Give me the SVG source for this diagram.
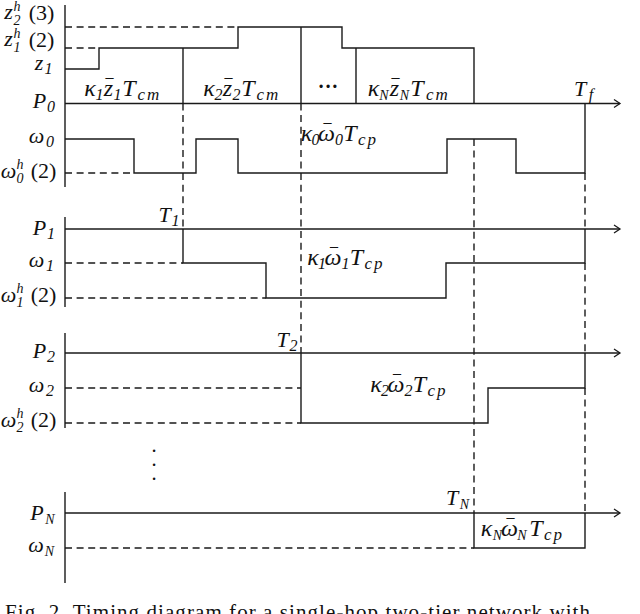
<svg xmlns="http://www.w3.org/2000/svg" width="640" height="614" viewBox="0 0 640 614">
<style>
.ln{fill:none;stroke:#1a1a1a;stroke-width:1.4}
.ds{fill:none;stroke:#1a1a1a;stroke-width:1.4;stroke-dasharray:7 4.6}
.m{font-family:"Liberation Serif","DejaVu Serif",serif;font-style:italic;font-size:22px;fill:#111;text-anchor:middle}
.k{font-size:24px}
.r{font-style:normal}
.sb{font-size:16px}
.sn{font-size:14px}
.sc{font-size:17px;letter-spacing:2px}
.ss{font-size:14px}
.mc{font-size:16px;font-style:normal}
.cap{font-family:"Liberation Serif",serif;font-size:21px;fill:#111}
</style>
<defs>
<marker id="ar" markerWidth="12" markerHeight="12" refX="10" refY="6" orient="auto" markerUnits="userSpaceOnUse">
<path d="M4 2 L10 6 L4 10" fill="none" stroke="#1a1a1a" stroke-width="1.3"/>
</marker>
</defs>
<g id="axes">
<path class="ln" d="M65 5 V187 M65 217 V307 M65 333 V428 M65 492 V583"/>
<path class="ln" marker-end="url(#ar)" d="M65 103.5 H620"/>
<path class="ln" marker-end="url(#ar)" d="M65 229 H620"/>
<path class="ln" marker-end="url(#ar)" d="M65 353 H620"/>
<path class="ln" marker-end="url(#ar)" d="M65 513 H620"/>
</g>
<g id="comm">
<path class="ln" d="M65 69 H99 V48 H238 V27 H342 V48 H474 V103.5"/>
<path class="ln" d="M183 48 V103.5 M301 27 V103.5 M356 48 V103.5"/>
<path class="ds" d="M65 27 H238 M65 48 H99"/>
</g>
<g id="p0">
<path class="ln" d="M65 139 H134 V173 H196 V139 H238 V173 H447 V139 H516 V173 H585 V103.5"/>
<path class="ds" d="M65 173 H134"/>
</g>
<g id="p1">
<path class="ln" d="M183 229 V263 H266 V298 H446 V263 H585 V229"/>
<path class="ds" d="M65 263 H183 M65 298 H266"/>
</g>
<g id="p2">
<path class="ln" d="M301 353 V423 H488 V388 H585 V353"/>
<path class="ds" d="M65 388 H301 M65 423 H301"/>
</g>
<g id="pN">
<path class="ln" d="M474 513 V548 H585 V513"/>
<path class="ds" d="M65 548 H474"/>
</g>
<g id="connectors">
<path class="ds" d="M183 103.5 V229 M301 103.5 V353 M474 139 V513 M585 173 V229 M585 263 V353 M585 388 V513"/>
</g>
<g id="left-labels">
<text class="m"><tspan x="8.5" y="19">z</tspan><tspan class="ss" x="17" y="11">h</tspan><tspan class="ss" x="17" y="25">2</tspan><tspan class="r" x="41.5" y="20">(3)</tspan></text>
<text class="m"><tspan x="8.5" y="46">z</tspan><tspan class="ss" x="17" y="38">h</tspan><tspan class="ss" x="17" y="52">1</tspan><tspan class="r" x="41.5" y="47">(2)</tspan></text>
<text class="m"><tspan x="39" y="70">z</tspan><tspan class="sb" x="48.5" y="74">1</tspan></text>
<text class="m"><tspan x="39.5" y="108">P</tspan><tspan class="sb" x="51" y="112">0</tspan></text>
<text class="m"><tspan x="36.5" y="143">ω</tspan><tspan class="sb" x="50" y="147">0</tspan></text>
<text class="m"><tspan x="8.5" y="178">ω</tspan><tspan class="ss" x="20" y="169">h</tspan><tspan class="ss" x="20" y="183">0</tspan><tspan class="r" x="43.5" y="178">(2)</tspan></text>
<text class="m"><tspan x="39.5" y="235">P</tspan><tspan class="sb" x="51" y="239">1</tspan></text>
<text class="m"><tspan x="36.5" y="267">ω</tspan><tspan class="sb" x="50" y="271">1</tspan></text>
<text class="m"><tspan x="8.5" y="302">ω</tspan><tspan class="ss" x="20" y="293">h</tspan><tspan class="ss" x="20" y="307">1</tspan><tspan class="r" x="43.5" y="302">(2)</tspan></text>
<text class="m"><tspan x="39.5" y="358">P</tspan><tspan class="sb" x="51" y="362">2</tspan></text>
<text class="m"><tspan x="36.5" y="392">ω</tspan><tspan class="sb" x="50" y="396">2</tspan></text>
<text class="m"><tspan x="8.5" y="427">ω</tspan><tspan class="ss" x="20" y="418">h</tspan><tspan class="ss" x="20" y="432">2</tspan><tspan class="r" x="43.5" y="427">(2)</tspan></text>
<text class="m"><tspan x="37" y="520">P</tspan><tspan class="sn" x="50" y="524">N</tspan></text>
<text class="m"><tspan x="36" y="552">ω</tspan><tspan class="sn" x="49.5" y="556">N</tspan></text>
</g>
<g id="inner-labels">
<text class="m k"><tspan x="90" y="96">κ</tspan><tspan class="sb" x="99.5" y="100">1</tspan><tspan x="108.5" y="96">z</tspan><tspan class="mc" x="109.5" y="91">¯</tspan><tspan class="sb" x="117.5" y="100">1</tspan><tspan x="129" y="96">T</tspan><tspan class="sc" x="149.5" y="100">cm</tspan></text>
<text class="m k"><tspan x="209" y="96">κ</tspan><tspan class="sb" x="218.5" y="100">2</tspan><tspan x="227.5" y="96">z</tspan><tspan class="mc" x="228.5" y="91">¯</tspan><tspan class="sb" x="236.5" y="100">2</tspan><tspan x="248" y="96">T</tspan><tspan class="sc" x="268.5" y="100">cm</tspan></text>
<text x="319" y="91" style="font-family:'Liberation Sans',sans-serif;font-size:12px;fill:#111" textLength="18" lengthAdjust="spacing">•••</text>
<text class="m k"><tspan x="373.5" y="96">κ</tspan><tspan class="sn" x="384" y="100">N</tspan><tspan x="394.5" y="96">z</tspan><tspan class="mc" x="395.5" y="91">¯</tspan><tspan class="sn" x="404.5" y="100">N</tspan><tspan x="417" y="96">T</tspan><tspan class="sc" x="438" y="100">cm</tspan></text>
<text class="m"><tspan x="580" y="96">T</tspan><tspan class="sb" x="591" y="100">f</tspan></text>
<text class="m k"><tspan x="306.5" y="141">κ</tspan><tspan class="sb" x="315.5" y="145">0</tspan><tspan x="326.5" y="141">ω</tspan><tspan class="mc" x="327.5" y="136">¯</tspan><tspan class="sb" x="339" y="145">0</tspan><tspan x="350" y="141">T</tspan><tspan class="sc" x="368" y="145">cp</tspan></text>
<text class="m"><tspan x="164.5" y="222">T</tspan><tspan class="sb" x="175.5" y="226">1</tspan></text>
<text class="m k"><tspan x="313" y="265">κ</tspan><tspan class="sb" x="322" y="269">1</tspan><tspan x="333" y="265">ω</tspan><tspan class="mc" x="334" y="260">¯</tspan><tspan class="sb" x="345.5" y="269">1</tspan><tspan x="356.5" y="265">T</tspan><tspan class="sc" x="374.5" y="269">cp</tspan></text>
<text class="m"><tspan x="282.5" y="347">T</tspan><tspan class="sb" x="293.5" y="351">2</tspan></text>
<text class="m k"><tspan x="376" y="392">κ</tspan><tspan class="sb" x="385" y="396">2</tspan><tspan x="396" y="392">ω</tspan><tspan class="mc" x="397" y="387">¯</tspan><tspan class="sb" x="408.5" y="396">2</tspan><tspan x="419.5" y="392">T</tspan><tspan class="sc" x="437.5" y="396">cp</tspan></text>
<text x="154" y="454" style="font-family:'Liberation Sans',sans-serif;font-size:9px;fill:#111" text-anchor="middle">•<tspan x="154" dy="14">•</tspan><tspan x="154" dy="14">•</tspan></text>
<text class="m"><tspan x="452" y="505">T</tspan><tspan class="sn" x="464.5" y="509">N</tspan></text>
<text class="m k"><tspan x="486.5" y="536">κ</tspan><tspan class="sn" x="497.5" y="540">N</tspan><tspan x="509.5" y="536">ω</tspan><tspan class="mc" x="510.5" y="531">¯</tspan><tspan class="sn" x="522" y="540">N</tspan><tspan x="536" y="536">T</tspan><tspan class="sc" x="554" y="540">cp</tspan></text>
</g>
<text class="cap" x="5" y="619" textLength="585" lengthAdjust="spacing">Fig. 2. Timing diagram for a single-hop two-tier network with</text>
</svg>
